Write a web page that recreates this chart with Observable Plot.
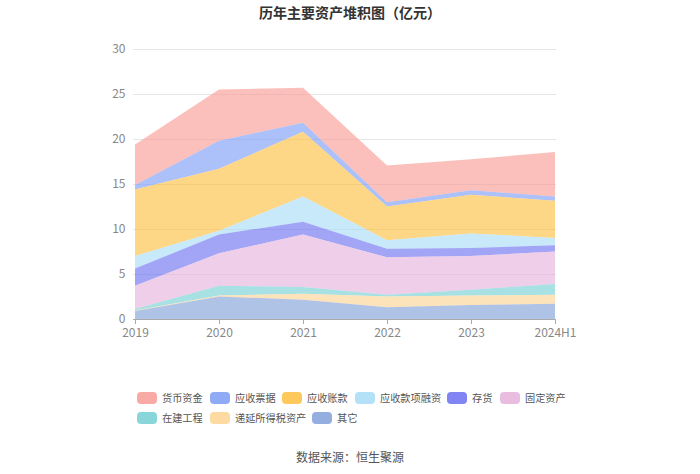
<!DOCTYPE html>
<html>
<head>
<meta charset="utf-8">
<script src="https://cdn.jsdelivr.net/npm/d3@7"></script>
<script src="https://cdn.jsdelivr.net/npm/@observablehq/plot@0.6"></script>
<style>
  html, body { margin: 0; padding: 0; background: #fff; }
  body { width: 700px; height: 474px; position: relative; overflow: hidden;
         font-family: "Noto Sans CJK SC", "Noto Sans", sans-serif; }
  #title { position: absolute; top: 2px; left: 0; width: 700px; text-align: center;
           font-size: 14px; font-weight: bold; color: #333; line-height: 20px; }
  #chart { position: absolute; top: 0; left: 0; }
  .item { position: absolute; display: flex; align-items: center; font-size: 10.2px; color: #555; line-height: 14px; white-space: nowrap; }
  .sw { width: 20px; height: 12px; border-radius: 4px; margin-right: 5px; }
  #caption { position: absolute; top: 449px; left: 0; width: 700px; text-align: center;
             font-size: 12px; color: #555; line-height: 16px; }
</style>
</head>
<body>
<div id="title">历年主要资产堆积图（亿元）</div>
<div id="chart"></div>
<div id="legend"></div>
<div id="caption">数据来源：恒生聚源</div>
<script>
// ---- data ----
const years = ["2019", "2020", "2021", "2022", "2023", "2024H1"];
const seriesNames = ["货币资金", "应收票据", "应收账款", "应收款项融资", "存货", "固定资产", "在建工程", "递延所得税资产", "其它"];
const cash          = [4.5, 5.7, 3.9, 4.1, 3.45, 4.95];
const notesRec      = [0.5, 3.1, 1.0, 0.46, 0.5, 0.45];
const accountsRec   = [7.4, 6.9, 7.2, 3.75, 4.3, 4.15];
const recFinancing  = [1.4, 0.4, 2.8, 0.95, 1.6, 0.8];
const inventory     = [1.9, 2.1, 1.4, 0.95, 0.9, 0.7];
const fixedAssets   = [2.6, 3.6, 5.85, 4.15, 3.75, 3.6];
const construction  = [0.15, 1.1, 0.75, 0.2, 0.65, 1.2];
const deferredTax   = [0.05, 0.1, 0.65, 1.2, 1.05, 1.0];
const other         = [0.9, 2.5, 2.15, 1.3, 1.55, 1.7];
const yTicks = [0, 5, 10, 15, 20, 25, 30];
const colors = ["#f99b94", "#7b9cf5", "#fdc040", "#a6dcf7", "#6b6ff0", "#e4b2da", "#74cfd4", "#fcd391", "#80a0d9"];

// ---- build table ----
const seriesValues = [cash, notesRec, accountsRec, recFinancing, inventory, fixedAssets, construction, deferredTax, other];
const data = [];
seriesNames.forEach((s, i) => years.forEach((y, j) => data.push({year: y, series: s, value: seriesValues[i][j]})));
const stackOrder = seriesNames.slice().reverse();

const font = '"Noto Sans CJK SC", "Noto Sans", sans-serif';
const chart = Plot.plot({
  width: 700,
  height: 350,
  marginTop: 49,
  marginBottom: 31,
  marginLeft: 133,
  marginRight: 144,
  style: {fontFamily: font, fontSize: "12px", background: "transparent"},
  x: {type: "point", domain: years, padding: 0, label: null},
  y: {domain: [0, 30], label: null},
  color: {domain: seriesNames, range: colors},
  marks: [
    Plot.gridY(yTicks.filter(d => d > 0), {stroke: "#e6e6e6", strokeOpacity: 1}),
    Plot.areaY(data, {x: "year", y: "value", z: "series", fill: "series", fillOpacity: 0.63, order: stackOrder}),
    Plot.axisY(yTicks, {tickSize: 0, tickPadding: 8, fill: "#888", fontSize: 12}),
    Plot.ruleY([0], {stroke: "#aaa"}),
    Plot.axisX({tickSize: 5, tickPadding: 4, stroke: "#aaa", fill: "#888", fontSize: 12})
  ]
});
document.getElementById("chart").appendChild(chart);

// ---- legend ----
const legendLeft = [137, 210, 282, 355, 447, 500, 137, 210, 312];
const legendTop  = [391, 391, 391, 391, 391, 391, 411, 411, 411];
const legend = document.getElementById("legend");
seriesNames.forEach((s, i) => {
  const it = document.createElement("div");
  it.className = "item";
  it.style.left = legendLeft[i] + "px";
  it.style.top = legendTop[i] + "px";
  const sw = document.createElement("span");
  sw.className = "sw";
  sw.style.background = colors[i];
  sw.style.opacity = 0.85;
  const tx = document.createElement("span");
  tx.textContent = s;
  it.appendChild(sw);
  it.appendChild(tx);
  legend.appendChild(it);
});
</script>
</body>
</html>
